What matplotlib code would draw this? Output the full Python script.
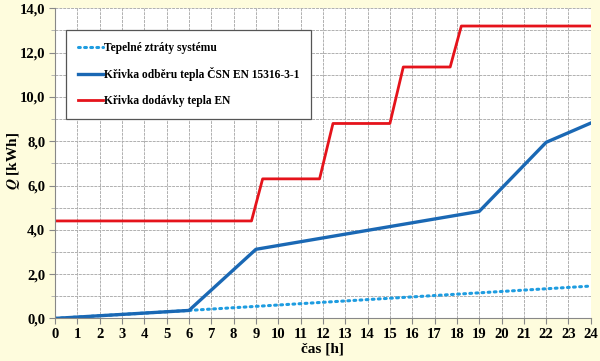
import matplotlib
matplotlib.use("Agg")
import matplotlib.pyplot as plt
from matplotlib.ticker import MultipleLocator, FuncFormatter

# data
loss_t = [0, 6, 24]
loss_q = [0, 0.36, 1.46]

demand_t = [0, 6, 9, 19, 22, 24]
demand_q = [0, 0.36, 3.12, 4.83, 7.95, 8.82]

supply_t = [0, 8.8, 9.3, 11.85, 12.45, 15.0, 15.6, 17.7, 18.2, 24]
supply_q = [4.4, 4.4, 6.3, 6.3, 8.8, 8.8, 11.35, 11.35, 13.2, 13.2]

labels = ["Tepelné ztráty systému",
          "Křivka odběru tepla ČSN EN 15316-3-1",
          "Křivka dodávky tepla EN"]

plt.rcParams["font.family"] = ["Liberation Serif", "DejaVu Serif"]
plt.rcParams["font.weight"] = "bold"
plt.rcParams["mathtext.fontset"] = "stix"

fig = plt.figure(figsize=(6, 3.61), dpi=100, facecolor="#FEFCDD")
ax = fig.add_axes([0.0917, 0.118, 0.893, 0.859])
ax.set_facecolor("white")

ax.plot(loss_t, loss_q, color="#1E9CE0", lw=2.2, linestyle=(0, (0.6, 1.4)),
        dash_capstyle="round", label=labels[0])
ax.plot(demand_t, demand_q, color="#1A68B4", lw=2.4, label=labels[1])
ax.plot(supply_t, supply_q, color="#E5131B", lw=2.0, label=labels[2])

ax.set_xlim(0, 24)
ax.set_ylim(0, 14)
ax.xaxis.set_major_locator(MultipleLocator(1))
ax.yaxis.set_major_locator(MultipleLocator(2))
ax.yaxis.set_minor_locator(MultipleLocator(1))
ax.yaxis.set_major_formatter(FuncFormatter(lambda v, p: f"{v:.1f}".replace(".", ",")))
ax.grid(True, which="both", color="#B0B0B0", lw=0.7, linestyle=(0, (3, 1)))
ax.set_axisbelow(True)

for s in ["top", "right"]:
    ax.spines[s].set_visible(False)
ax.spines["left"].set_color("#888888")
ax.spines["bottom"].set_color("#888888")
ax.tick_params(axis="both", labelsize=10.5, length=4, color="#888888", pad=3)
ax.tick_params(axis="y", which="minor", length=3, color="#AAAAAA")

ax.set_xlabel("čas [h]", fontsize=11, fontweight="bold", labelpad=1)
fig.text(0.022, 0.555, r"$\mathbfit{Q}$ [kWh]", rotation=90, fontsize=11,
         fontweight="bold", ha="center", va="center")

leg = ax.legend(loc="upper left", bbox_to_anchor=(0.0205, 0.93), fontsize=8.3,
                fancybox=False, edgecolor="#555555", framealpha=1,
                handlelength=2.2, handletextpad=0.1, labelspacing=1.2,
                borderpad=1.0, borderaxespad=0)
leg.get_frame().set_linewidth(0.9)
for t in leg.get_texts():
    t.set_fontweight("bold")

fig.savefig("out.png", dpi=100, facecolor=fig.get_facecolor())
